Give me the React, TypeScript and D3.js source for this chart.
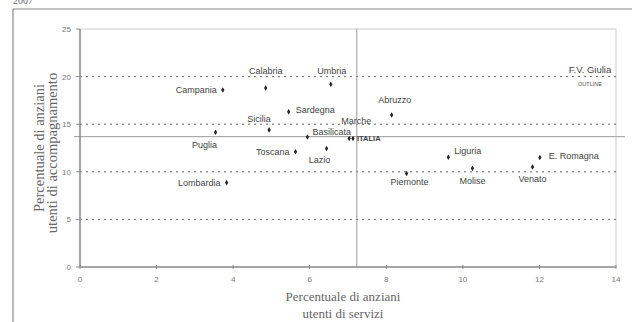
import React from "react";
import * as d3 from "d3";

const regions = ["Campania","Calabria","Sardegna","Sicilia","Puglia","Toscana","Basilicata","Lazio","Umbria","Marche","ITALIA","Abruzzo","Liguria","E. Romagna","Molise","Venato","Piemonte","Lombardia"];
const servizi = [3.73,4.85,5.45,4.94,3.54,5.63,5.94,6.44,6.55,7.03,7.13,8.14,9.62,12.01,10.25,11.82,8.53,3.83];
const accompagnamento = [18.6,18.8,16.3,14.4,14.15,12.1,13.65,12.45,19.2,13.5,13.5,15.97,11.52,11.5,10.36,10.5,9.83,8.86];
const xTicks = [0,2,4,6,8,10,12,14];
const yTicks = [0,5,10,15,20,25];
const gridValues = [5,10,15,20];
const refX = 7.23;
const refY = 13.69;
const outlierName = "F.V. Giulia";
const outlierNote = "OUTLINE";
const outlierY = 20;

// label layout (offsets from point)
const labelLayout: Record<string, [number, number, string]> = {
  "Campania": [-6, 3, "end"],
  "Calabria": [0, -14, "middle"],
  "Sardegna": [7, 1, "start"],
  "Sicilia": [-10, -8, "middle"],
  "Puglia": [-11, 16, "middle"],
  "Toscana": [-6, 3, "end"],
  "Basilicata": [5, -2, "start"],
  "Lazio": [-7, 15, "middle"],
  "Umbria": [1, -10, "middle"],
  "Marche": [7, -14, "middle"],
  "ITALIA": [4, 3, "start"],
  "Abruzzo": [3, -12, "middle"],
  "Liguria": [6, -3, "start"],
  "E. Romagna": [9, 1, "start"],
  "Molise": [0, 16, "middle"],
  "Venato": [0, 15, "middle"],
  "Piemonte": [3, 12, "middle"],
  "Lombardia": [-6, 3, "end"],
};

export default function App() {
  const W = 632, H = 322;
  const x = d3.scaleLinear().domain([0, 14]).range([80, 616]);
  const y = d3.scaleLinear().domain([0, 25]).range([267, 29]);
  const sans = "'Liberation Sans', Arial, sans-serif";
  const serif = "'Liberation Serif', 'Times New Roman', serif";
  const diamond = d3.symbol().type(d3.symbolDiamond).size(9)()!;
  return (
    <div style={{ position: "absolute", left: 0, top: 0 }}>
      <svg width={W} height={H} style={{ display: "block", background: "#fff" }}>
        <text x={13} y={4} fontFamily={serif} fontSize={10} fill="#666">2007</text>
        {/* outer frame */}
        <line x1={13} y1={9} x2={W} y2={9} stroke="#888" strokeWidth={1.2} />
        <line x1={13} y1={9} x2={13} y2={H} stroke="#888" strokeWidth={1.2} />
        {/* plot box top/right */}
        <line x1={x(0)} y1={y(25)} x2={x(14)} y2={y(25)} stroke="#ccc" strokeWidth={1} />
        <line x1={x(14)} y1={y(25)} x2={x(14)} y2={y(0)} stroke="#ccc" strokeWidth={1} />
        {/* dotted grid */}
        {gridValues.map(v => (
          <line key={v} x1={x(0)} x2={x(14)} y1={y(v)} y2={y(v)} stroke="#666" strokeWidth={1} strokeDasharray="2,4" />
        ))}
        {/* reference lines */}
        <line x1={x(refX)} x2={x(refX)} y1={y(25)} y2={y(0)} stroke="#999" strokeWidth={1} />
        <line x1={74} x2={625} y1={y(refY)} y2={y(refY)} stroke="#999" strokeWidth={1} />
        {/* axes */}
        <line x1={x(0)} x2={x(0)} y1={y(25)} y2={y(0)} stroke="#888" strokeWidth={1.5} />
        <line x1={x(0)} x2={x(14)} y1={y(0)} y2={y(0)} stroke="#888" strokeWidth={1.5} />
        {yTicks.map(t => (
          <g key={t}>
            <line x1={x(0) - 4} x2={x(0)} y1={y(t)} y2={y(t)} stroke="#888" strokeWidth={1} />
            <text x={71} y={y(t) + 3} textAnchor="end" fontFamily={sans} fontSize={8} fill="#777">{t}</text>
          </g>
        ))}
        {xTicks.map(t => (
          <g key={t}>
            <line x1={x(t)} x2={x(t)} y1={y(0) - 2} y2={y(0) + 2} stroke="#888" strokeWidth={1} />
            <text x={x(t)} y={282} textAnchor="middle" fontFamily={sans} fontSize={8} fill="#777">{t}</text>
          </g>
        ))}
        {/* axis titles */}
        <text x={343} y={301} textAnchor="middle" fontFamily={serif} fontSize={13} fill="#666">Percentuale di anziani</text>
        <text x={343} y={318} textAnchor="middle" fontFamily={serif} fontSize={13} fill="#666">utenti di servizi</text>
        <text transform={`translate(44,148) rotate(-90)`} textAnchor="middle" fontFamily={serif} fontSize={14.5} fill="#666">Percentuale di anziani</text>
        <text transform={`translate(57,153) rotate(-90)`} textAnchor="middle" fontFamily={serif} fontSize={14.5} fill="#666">utenti di accompagnamento</text>
        {/* points */}
        {regions.map((r, i) => {
          const px = x(servizi[i]), py = y(accompagnamento[i]);
          const [dx, dy, anchor] = labelLayout[r];
          const isIt = r === "ITALIA";
          return (
            <g key={r}>
              <path d={diamond} transform={`translate(${px},${py})`} fill="#222" />
              <text x={px + dx} y={py + dy} textAnchor={anchor as any} fontFamily={sans}
                fontSize={isIt ? 7.5 : 9} fontWeight={isIt ? "bold" : "normal"} fill="#444">{r}</text>
            </g>
          );
        })}
        {/* outlier annotation */}
        <text x={590} y={y(outlierY) - 4} textAnchor="middle" fontFamily={sans} fontSize={9.5} fill="#444">{outlierName}</text>
        <text x={590} y={y(outlierY) + 9} textAnchor="middle" fontFamily={sans} fontSize={5.5} fill="#555">{outlierNote}</text>
      </svg>
    </div>
  );
}
